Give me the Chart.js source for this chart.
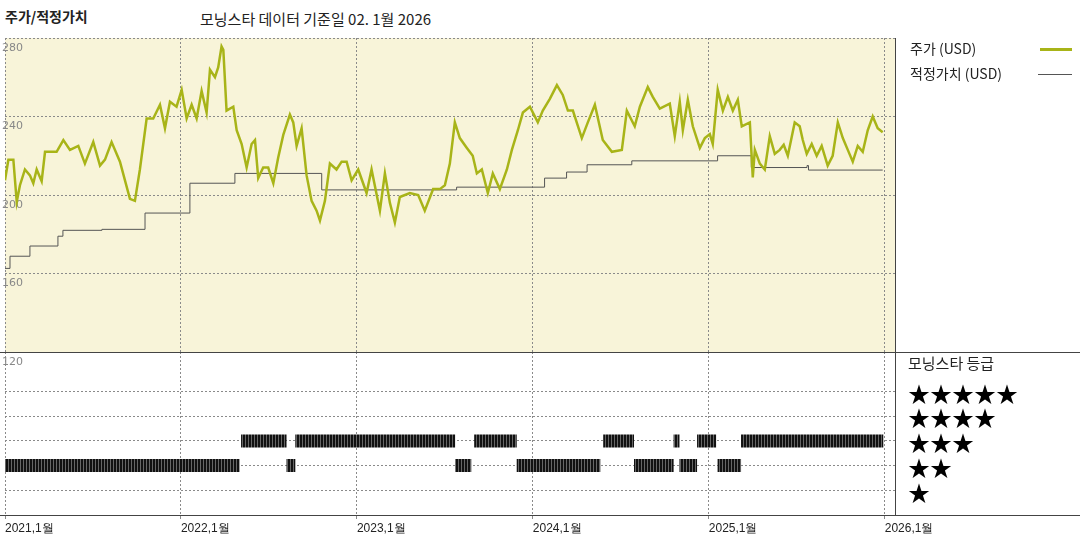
<!DOCTYPE html>
<html>
<head>
<meta charset="utf-8">
<script src="https://cdn.jsdelivr.net/npm/chart.js@4"></script>
<style>
  body { margin: 0; width: 1080px; height: 540px; background: #fff; font-family: "Noto Sans CJK KR", "Noto Sans", sans-serif; position: relative; overflow: hidden; }
  canvas { position: absolute; left: 0; }
  .txt { position: absolute; color: #222; white-space: nowrap; }
  .stars { position: absolute; left: 908px; font-size: 22px; color: #000; line-height: 24px; }
</style>
</head>
<body>
<div class="txt" style="left:5px;top:6px;font-size:14px;font-weight:bold;">주가/적정가치</div>
<div class="txt" style="left:200px;top:8px;font-size:15px;">모닝스타 데이터 기준일 02. 1월 2026</div>

<canvas id="ratingChart" style="top:352px" width="1080" height="188"></canvas>
<canvas id="priceChart" style="top:0" width="1080" height="540"></canvas>

<div class="txt" style="left:910px;top:38px;font-size:14px;">주가 (USD)</div>
<div style="position:absolute;left:1040px;top:48px;width:32px;height:3px;background:#a8b418"></div>
<div class="txt" style="left:910px;top:63px;font-size:14px;">적정가치 (USD)</div>
<div style="position:absolute;left:1038px;top:74px;width:34px;height:1px;background:#555"></div>
<div class="txt" style="left:908px;top:352px;font-size:15px;">모닝스타 등급</div>
<div class="stars" style="top:380px">★★★★★</div>
<div class="stars" style="top:404px">★★★★</div>
<div class="stars" style="top:429px">★★★</div>
<div class="stars" style="top:454px">★★</div>
<div class="stars" style="top:479px">★</div>

<script>
// months since 2021-01
const priceMonths = [0,0.23,0.57,0.8,1.02,1.36,1.7,1.93,2.16,2.5,2.73,3.52,3.98,4.43,5.0,5.45,6.02,6.48,6.82,7.27,7.84,8.52,8.86,9.2,9.66,10.11,10.57,10.91,11.25,11.7,12.05,12.39,12.73,13.07,13.41,13.75,13.98,14.32,14.54,14.77,14.89,15.11,15.57,15.8,16.14,16.48,16.82,17.05,17.27,17.61,17.95,18.3,18.63,18.98,19.43,19.66,19.89,20.23,20.57,20.91,21.25,21.48,21.82,22.16,22.61,22.96,23.3,23.64,24.09,24.66,25.0,25.57,25.91,26.25,26.59,26.93,27.61,28.18,28.63,29.2,29.66,30.0,30.34,30.68,31.02,31.5,31.9,32.18,32.52,32.93,33.27,33.75,34.23,34.57,34.98,35.32,35.8,36.34,36.68,37.16,37.64,38.04,38.39,38.73,39.34,39.75,40.23,40.77,41.39,42.07,42.41,42.95,43.3,43.84,44.18,44.66,45.34,45.68,46.02,46.23,46.57,46.91,47.39,47.73,48.07,48.27,48.61,48.96,49.3,49.64,49.98,50.25,50.8,51.0,51.14,51.48,51.82,52.16,52.5,52.84,53.11,53.39,53.86,54.2,54.41,54.68,55.02,55.36,55.7,56.11,56.45,56.8,57.14,57.48,57.82,58.16,58.5,58.84,59.18,59.52,59.86];
const priceValues = [207.5,218,218,196.5,205,213,210,206,213,207,222,222,228,223,225,216,227,215,218,227,217,198,197,213,239,239,246,234,247.5,245,253.6,239,246,239,253,242,263.8,260,265,275.7,274,243,245,233,226,214,226,228,208.6,214,214,206,219,230.6,241,237,225,234,210,197,192,187,197,216,213,217,217,207.5,213,201,213,192,211,196,186,199,201,200,192,203,203,205,216,237,229,224,220,211,213,201,211,203,213,223,233,242,245,237,243,249,256,251,243,243,229,237,246,228,222,223,243,235,245,255,250,244,246.5,230,247.5,233,248.5,235,224,229,231,226,253.6,243,250,243,248.5,235,237,209,223,216,213,230,221,223,225.6,220,237,235,228,221,226,220,225,215,220,237,229,223,217,225,222,233,240,234,232];
const fairMonths = [0,0.34,1.7,3.61,3.95,6.61,9.55,12.61,15.68,21.6,30.8,36.8,38.3,39.7,42.75,48.6,50.9,54.7,54.8,59.86];
const fairValues = [162.6,168.8,174,179,182,182.5,190.8,206,211,202.6,204,208.6,211.7,215.4,217.4,220,214,215,212.7,212.7];
const twoStarSpans = [[0,16.0],[19.2,19.8],[30.7,31.8],[34.9,40.6],[42.9,45.6],[46.0,47.2],[48.6,50.2]];
const threeStarSpans = [[16.1,19.2],[19.8,30.7],[32.0,34.9],[40.8,42.9],[45.6,46.0],[47.2,48.5],[50.2,59.9]];
const yearTicks = [0,12,24,36,48,60];
const yearLabels = ['2021,1월','2022,1월','2023,1월','2024,1월','2025,1월','2026,1월'];
const priceTicks = [120,160,200,240,280];

const X_MAX = 60.7;
const dashGrid = { color: '#8a8a8a', lineWidth: 1, drawTicks: false };
const dashBorder = { display: false, dash: [2, 2] };

function spansToPoints(spans, rating) {
  const pts = [];
  spans.forEach(([a, b]) => { pts.push({x: a, y: rating}, {x: b, y: rating}, {x: b, y: null}); });
  return pts;
}

// striped fill to mimic the hatched rating bars
const pc = document.createElement('canvas');
pc.width = 3; pc.height = 4;
const pctx = pc.getContext('2d');
pctx.fillStyle = '#666'; pctx.fillRect(0, 0, 3, 4);
pctx.fillStyle = '#111'; pctx.fillRect(0, 0, 2, 4);
const stripe = document.getElementById('ratingChart').getContext('2d').createPattern(pc, 'repeat');

const frame = {
  id: 'frame',
  beforeDraw(chart, args, opts) {
    const { ctx, chartArea: a } = chart;
    if (opts.fill) { ctx.save(); ctx.fillStyle = opts.fill; ctx.fillRect(a.left, a.top, a.right - a.left, a.bottom - a.top); ctx.restore(); }
  },
  afterDraw(chart, args, opts) {
    const { ctx, chartArea: a } = chart;
    ctx.save();
    ctx.strokeStyle = '#444'; ctx.lineWidth = 1;
    ctx.beginPath();
    ctx.moveTo(895.5, a.top); ctx.lineTo(895.5, a.bottom);
    if (opts.bottomLine) { ctx.moveTo(0, a.bottom + 0.5); ctx.lineTo(1080, a.bottom + 0.5); }
    ctx.stroke();
    ctx.restore();
  }
};

new Chart(document.getElementById('priceChart'), {
  type: 'line',
  data: {
    datasets: [{
      label: '주가 (USD)',
      data: priceMonths.map((m, i) => ({x: m, y: priceValues[i]})),
      borderColor: '#a8b418', borderWidth: 2.5, pointRadius: 0, tension: 0
    }, {
      label: '적정가치 (USD)',
      data: fairMonths.map((m, i) => ({x: m, y: fairValues[i]})),
      borderColor: '#555', borderWidth: 1, pointRadius: 0, stepped: true
    }]
  },
  options: {
    responsive: false, animation: false, devicePixelRatio: 1,
    layout: { padding: { left: 5, right: 185, top: 38, bottom: 188 } },
    plugins: { legend: { display: false }, tooltip: { enabled: false }, frame: { fill: '#f8f4d9', bottomLine: true } },
    scales: {
      x: {
        type: 'linear', min: 0, max: X_MAX,
        afterBuildTicks: s => { s.ticks = yearTicks.map(v => ({value: v})); },
        afterFit: s => { s.height = 0; },
        ticks: { display: false }, grid: dashGrid, border: dashBorder
      },
      y: {
        min: 120, max: 280,
        afterBuildTicks: s => { s.ticks = priceTicks.map(v => ({value: v})); },
        afterFit: s => { s.width = 0; },
        ticks: { mirror: true, padding: -3, labelOffset: 10, color: '#888', font: { family: 'DejaVu Sans', size: 11 } },
        grid: dashGrid, border: dashBorder
      }
    }
  },
  plugins: [frame]
});

new Chart(document.getElementById('ratingChart'), {
  type: 'line',
  data: {
    datasets: [
      { data: spansToPoints(twoStarSpans, 2), borderColor: stripe, borderWidth: 13, borderCapStyle: 'butt', pointRadius: 0, spanGaps: false },
      { data: spansToPoints(threeStarSpans, 3), borderColor: stripe, borderWidth: 13, borderCapStyle: 'butt', pointRadius: 0, spanGaps: false }
    ]
  },
  options: {
    responsive: false, animation: false, devicePixelRatio: 1,
    layout: { padding: { left: 5, right: 185, top: 0, bottom: 0 } },
    plugins: { legend: { display: false }, tooltip: { enabled: false }, frame: { bottomLine: true } },
    scales: {
      x: {
        type: 'linear', min: 0, max: X_MAX,
        afterBuildTicks: s => { s.ticks = yearTicks.map(v => ({value: v})); },
        afterFit: s => { s.height = 25; },
        ticks: { align: 'start', padding: 2, color: '#222', font: { size: 12 },
                 callback: v => yearLabels[yearTicks.indexOf(v)] },
        grid: { color: '#8a8a8a', tickLength: 4 },
        border: dashBorder
      },
      y: {
        min: 0, max: 6.6,
        afterBuildTicks: s => { s.ticks = [1,2,3,4,5].map(v => ({value: v})); },
        afterFit: s => { s.width = 0; },
        ticks: { display: false }, grid: dashGrid, border: dashBorder
      }
    }
  },
  plugins: [frame]
});
</script>
</body>
</html>
